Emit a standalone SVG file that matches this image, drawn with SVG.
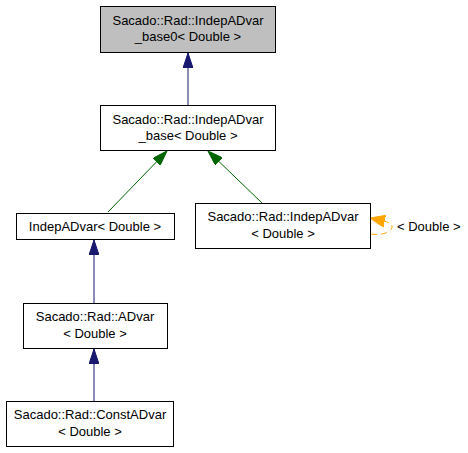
<svg xmlns="http://www.w3.org/2000/svg" width="468" height="453" viewBox="0 0 468 453">
<style>
.n{fill:#ffffff;stroke:#000000;stroke-width:1}
.g{fill:#bfbfbf}
.t{font-family:"Liberation Sans",Arial,sans-serif;font-size:13px;fill:#000000;text-anchor:middle}
.tl{text-anchor:start}
.b{stroke:#191970;fill:none;stroke-width:1}
.gr{stroke:#006400;fill:none;stroke-width:1}
.o{stroke:#ffa500;fill:none;stroke-width:1;stroke-dasharray:6,4}
</style>
<defs>
<marker id="ab" markerWidth="15" markerHeight="10" refX="15" refY="5" orient="auto" markerUnits="userSpaceOnUse" viewBox="0 0 15 10"><path d="M0,0 L15,5 L0,10 z" fill="#191970" stroke="#191970"/></marker>
<marker id="ag" markerWidth="15" markerHeight="10" refX="15" refY="5" orient="auto" markerUnits="userSpaceOnUse" viewBox="0 0 15 10"><path d="M0,0 L15,5 L0,10 z" fill="#006400" stroke="#006400"/></marker>
<marker id="ao" markerWidth="15" markerHeight="12" refX="15" refY="6" orient="auto" markerUnits="userSpaceOnUse" viewBox="0 0 15 12"><path d="M0,0 L15,6 L0,12 z" fill="#ffa500" stroke="#ffa500"/></marker>
</defs>
<rect width="468" height="453" fill="#ffffff"/>
<g id="edges">
<path class="b" d="M188,106 L188,53" marker-end="url(#ab)"/>
<path class="gr" d="M108,212 L167,151" marker-end="url(#ag)"/>
<path class="gr" d="M262,203 L208,151" marker-end="url(#ag)"/>
<path class="b" d="M94,303 L94,240" marker-end="url(#ab)"/>
<path class="b" d="M94,401 L94,349" marker-end="url(#ab)"/>
<path class="o" d="M371,234 C384,236 393,231 392,226 C391,222 384,221 370,218" marker-end="url(#ao)"/>
<text class="t tl" x="397" y="231">&lt; Double &gt;</text>
</g>
<g id="node_base0">
<rect class="n g" x="100.5" y="6.5" width="175" height="46"/>
<text class="t" x="188" y="25">Sacado::Rad::IndepADvar</text>
<text class="t" x="188" y="41">_base0&lt; Double &gt;</text>
</g>
<g id="node_base">
<rect class="n" x="100.5" y="105.5" width="175" height="45"/>
<text class="t" x="188" y="124">Sacado::Rad::IndepADvar</text>
<text class="t" x="188" y="140">_base&lt; Double &gt;</text>
</g>
<g id="node_indep">
<rect class="n" x="16.5" y="213.5" width="158" height="26"/>
<text class="t" x="95" y="231">IndepADvar&lt; Double &gt;</text>
</g>
<g id="node_radindep">
<rect class="n" x="195.5" y="203.5" width="175" height="45"/>
<text class="t" x="283" y="221">Sacado::Rad::IndepADvar</text>
<text class="t" x="283" y="238">&lt; Double &gt;</text>
</g>
<g id="node_advar">
<rect class="n" x="23.5" y="303.5" width="144" height="45"/>
<text class="t" x="95" y="321">Sacado::Rad::ADvar</text>
<text class="t" x="95" y="338">&lt; Double &gt;</text>
</g>
<g id="node_const">
<rect class="n" x="6.5" y="401.5" width="167" height="45"/>
<text class="t" x="90" y="419">Sacado::Rad::ConstADvar</text>
<text class="t" x="90" y="436">&lt; Double &gt;</text>
</g>
</svg>
